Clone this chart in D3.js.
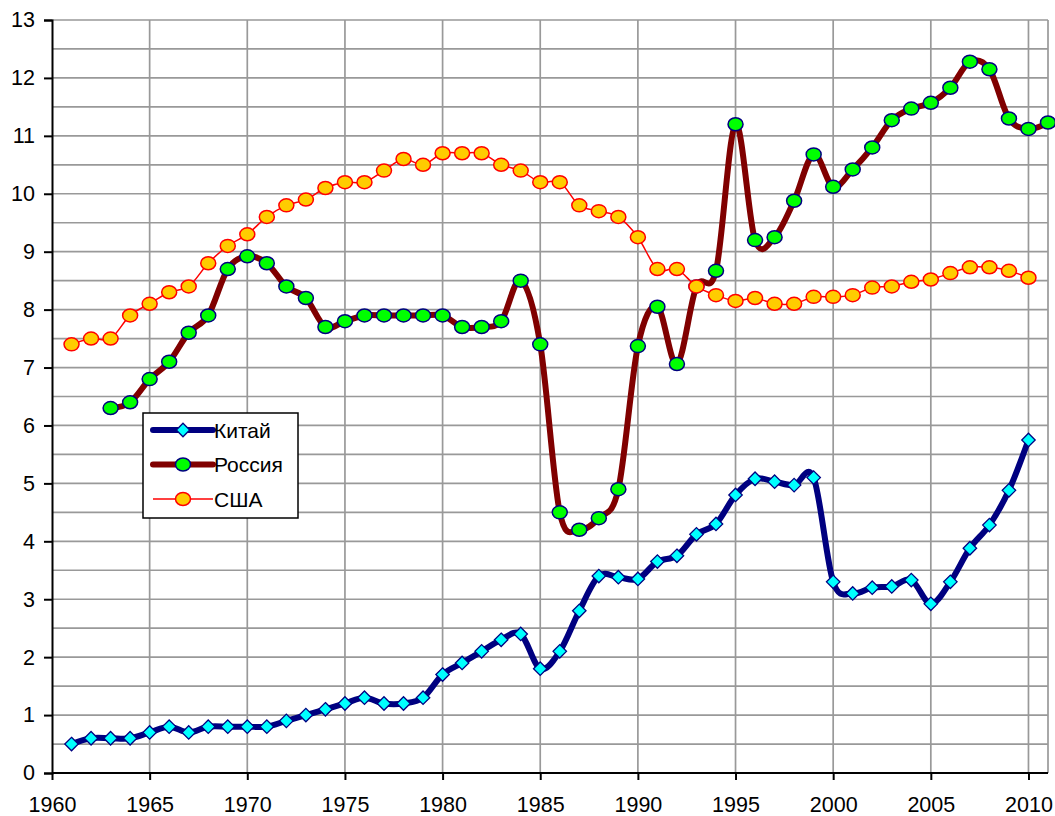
<!DOCTYPE html>
<html>
<head>
<meta charset="utf-8">
<script src="https://cdn.jsdelivr.net/npm/d3@7"></script>
<style>
  body { margin: 0; background: #fff; }
  svg { display: block; font-family: "Liberation Sans", Arial, sans-serif; }
</style>
</head>
<body>
<svg id="chart" width="1055" height="816"></svg>
<script>
(function () {
    const W = 1055, H = 816;
    const M = { left: 52, right: 7, top: 20, bottom: 43 };

    // Values
    const chinaYears = d3.range(1961, 2011);
    const chinaValues = [
        0.5, 0.6, 0.6, 0.6, 0.7, 0.8, 0.7, 0.8, 0.8, 0.8,
        0.8, 0.9, 1.0, 1.1, 1.2, 1.3, 1.2, 1.2, 1.3, 1.7,
        1.9, 2.1, 2.3, 2.4, 1.8, 2.1, 2.8, 3.4, 3.38, 3.35,
        3.65, 3.75, 4.12, 4.3, 4.8, 5.08, 5.03, 4.97, 5.1, 3.3,
        3.1, 3.2, 3.22, 3.33, 2.92, 3.3, 3.88, 4.28, 4.88, 5.75
    ];
    const russiaYears = d3.range(1963, 2012);
    const russiaValues = [
        6.3, 6.4, 6.8, 7.1, 7.6, 7.9, 8.7, 8.92, 8.8, 8.4,
        8.2, 7.7, 7.8, 7.9, 7.9, 7.9, 7.9, 7.9, 7.7, 7.7,
        7.8, 8.5, 7.4, 4.5, 4.2, 4.4, 4.9, 7.37, 8.05, 7.06,
        8.4, 8.67, 11.2, 9.2, 9.25, 9.88, 10.68, 10.12, 10.42, 10.8,
        11.27, 11.47, 11.57, 11.83, 12.28, 12.15, 11.3, 11.12, 11.23
    ];
    const usaYears = d3.range(1961, 2011);
    const usaValues = [
        7.4, 7.5, 7.5, 7.9, 8.1, 8.3, 8.4, 8.8, 9.1, 9.3,
        9.6, 9.8, 9.9, 10.1, 10.2, 10.2, 10.4, 10.6, 10.5, 10.7,
        10.7, 10.7, 10.5, 10.4, 10.2, 10.2, 9.8, 9.7, 9.6, 9.25,
        8.7, 8.7, 8.4, 8.25, 8.15, 8.2, 8.1, 8.1, 8.22, 8.22,
        8.25, 8.38, 8.4, 8.48, 8.52, 8.63, 8.73, 8.73, 8.67, 8.55
    ];
    const seriesNames = ["Китай", "Россия", "США"];
    const xTicks = d3.range(1960, 2011, 5);
    const yTicks = d3.range(0, 14, 1);
    const yGrid = d3.range(0, 13.01, 0.5);

    const svg = d3.select("#chart");
    const x = d3.scaleLinear().domain([1960, 2011]).range([M.left, W - M.right]);
    const y = d3.scaleLinear().domain([0, 13]).range([H - M.bottom, M.top]);

    // grid
    const grid = svg.append("g").attr("class", "grid");
    grid.selectAll("line.h")
        .data(yGrid)
        .join("line")
        .attr("class", "h")
        .attr("x1", x(1960)).attr("x2", x(2011))
        .attr("y1", d => y(d)).attr("y2", d => y(d))
        .attr("stroke", "#999").attr("stroke-width", 1.7);
    grid.selectAll("line.v")
        .data(xTicks.filter(d => d > 1960).concat([2011]))
        .join("line")
        .attr("class", "v")
        .attr("x1", d => x(d)).attr("x2", d => x(d))
        .attr("y1", y(0)).attr("y2", y(13))
        .attr("stroke", "#999").attr("stroke-width", 1.7);

    // axes
    const yAxis = svg.append("g")
        .attr("transform", `translate(${M.left},0)`)
        .call(d3.axisLeft(y).tickValues(yTicks).tickSize(8).tickPadding(9).tickFormat(d3.format("d")));
    const xAxis = svg.append("g")
        .attr("transform", `translate(0,${y(0)})`)
        .call(d3.axisBottom(x).tickValues(xTicks).tickSize(7).tickPadding(17).tickFormat(d3.format("d")));
    [xAxis, yAxis].forEach(a => {
        a.attr("font-size", null).attr("font-family", null);
        a.select(".domain").attr("stroke", "#000").attr("stroke-width", 2);
        a.selectAll(".tick line").attr("stroke", "#000").attr("stroke-width", 2);
        a.selectAll(".tick text").style("font-size", "21.5px").attr("fill", "#000")
            .style("font-family", "Liberation Sans, Arial, sans-serif");
    });
    xAxis.select(".domain").attr("d", `M${x(1960)},0H${x(2011)}`);

    const line = d3.line()
        .x(d => x(d[0])).y(d => y(d[1]))
        .curve(d3.curveCardinal);

    const usa = usaYears.map((yr, i) => [yr, usaValues[i]]);
    const russia = russiaYears.map((yr, i) => [yr, russiaValues[i]]);
    const china = chinaYears.map((yr, i) => [yr, chinaValues[i]]);

    const diamond = d3.symbol().type(d3.symbolDiamond2).size(115);

    function drawUSA(g, pts) {
        g.append("path").datum(pts).attr("d", line)
            .attr("fill", "none").attr("stroke", "#ff0000").attr("stroke-width", 1.5);
        g.selectAll("ellipse").data(pts).join("ellipse")
            .attr("cx", d => x(d[0])).attr("cy", d => y(d[1]))
            .attr("rx", 7.5).attr("ry", 6.5)
            .attr("fill", "#ffcc00").attr("stroke", "#ff0000").attr("stroke-width", 1.5);
    }
    function drawRussia(g, pts) {
        g.append("path").datum(pts).attr("d", line)
            .attr("fill", "none").attr("stroke", "#800000").attr("stroke-width", 6)
            .attr("stroke-linejoin", "round").attr("stroke-linecap", "round");
        g.selectAll("ellipse").data(pts).join("ellipse")
            .attr("cx", d => x(d[0])).attr("cy", d => y(d[1]))
            .attr("rx", 7.5).attr("ry", 6.5)
            .attr("fill", "#00ff00").attr("stroke", "#000080").attr("stroke-width", 1.5);
    }
    function drawChina(g, pts) {
        g.append("path").datum(pts).attr("d", line)
            .attr("fill", "none").attr("stroke", "#000080").attr("stroke-width", 6)
            .attr("stroke-linejoin", "round").attr("stroke-linecap", "round");
        g.selectAll("path.m").data(pts).join("path")
            .attr("class", "m")
            .attr("transform", d => `translate(${x(d[0])},${y(d[1])})`)
            .attr("d", diamond)
            .attr("fill", "#00ffff").attr("stroke", "#000080").attr("stroke-width", 1.3);
    }

    drawChina(svg.append("g"), china);
    drawRussia(svg.append("g"), russia);
    drawUSA(svg.append("g"), usa);

    // legend
    const lg = svg.append("g").attr("transform", "translate(143,413)");
    lg.append("rect").attr("width", 155).attr("height", 105)
        .attr("fill", "#fff").attr("stroke", "#000").attr("stroke-width", 1.5);
    const drawers = [
        (g, cx, cy) => {
            g.append("line").attr("x1", cx - 30).attr("x2", cx + 30).attr("y1", cy).attr("y2", cy)
                .attr("stroke", "#000080").attr("stroke-width", 6).attr("stroke-linecap", "round");
            g.append("path").attr("transform", `translate(${cx},${cy})`).attr("d", diamond)
                .attr("fill", "#00ffff").attr("stroke", "#000080").attr("stroke-width", 1.3);
        },
        (g, cx, cy) => {
            g.append("line").attr("x1", cx - 30).attr("x2", cx + 30).attr("y1", cy).attr("y2", cy)
                .attr("stroke", "#800000").attr("stroke-width", 6).attr("stroke-linecap", "round");
            g.append("ellipse").attr("cx", cx).attr("cy", cy).attr("rx", 7.5).attr("ry", 6.5)
                .attr("fill", "#00ff00").attr("stroke", "#000080").attr("stroke-width", 1.5);
        },
        (g, cx, cy) => {
            g.append("line").attr("x1", cx - 30).attr("x2", cx + 30).attr("y1", cy).attr("y2", cy)
                .attr("stroke", "#ff0000").attr("stroke-width", 1.5);
            g.append("ellipse").attr("cx", cx).attr("cy", cy).attr("rx", 7.5).attr("ry", 6.5)
                .attr("fill", "#ffcc00").attr("stroke", "#ff0000").attr("stroke-width", 1.5);
        }
    ];
    seriesNames.forEach((name, i) => {
        const cy = 17 + i * 34.5;
        drawers[i](lg, 40, cy);
        lg.append("text").attr("x", 71).attr("y", cy + 7.5)
            .style("font-size", "21px").attr("fill", "#000").text(name);
    });
})();
</script>
</body>
</html>
